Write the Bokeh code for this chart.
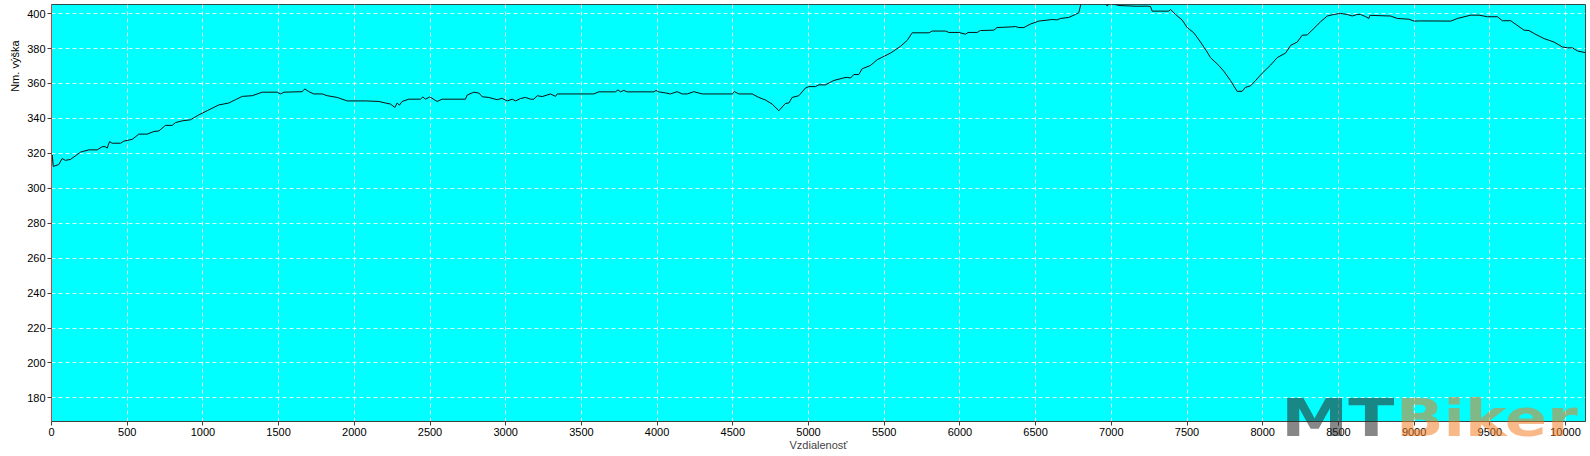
import math
from bokeh.plotting import figure
from bokeh.models import Range1d, FixedTicker, Title, Div
from bokeh.layouts import column
from bokeh.embed import file_html
from bokeh.resources import INLINE

# Distance (m) along the route
distance = [0, 5, 12, 48, 70, 92, 125, 192, 247, 302, 335, 356, 368, 383, 401, 456, 478, 533, 577, 632,
            676, 709, 753, 797, 819, 863, 918, 973, 1028, 1105, 1171, 1215, 1260, 1326, 1392, 1491, 1513,
            1535, 1656, 1673, 1700, 1733, 1788, 1821, 1887, 1953, 2074, 2162, 2206, 2239, 2268, 2283, 2298,
            2316, 2360, 2437, 2453, 2470, 2499, 2547, 2580, 2734, 2746, 2790, 2823, 2845, 2888, 2944, 2975,
            3010, 3043, 3065, 3098, 3131, 3164, 3186, 3208, 3241, 3296, 3329, 3340, 3582, 3615, 3725, 3741,
            3758, 3780, 3802, 3978, 3993, 4011, 4055, 4088, 4132, 4166, 4199, 4242, 4298, 4496, 4511, 4540,
            4628, 4672, 4716, 4760, 4804, 4848, 4870, 4892, 4936, 4980, 5002, 5046, 5068, 5112, 5167, 5233,
            5255, 5277, 5299, 5332, 5354, 5409, 5454, 5498, 5542, 5608, 5652, 5685, 5795, 5817, 5905, 5927,
            5993, 6037, 6054, 6114, 6136, 6224, 6246, 6345, 6367, 6389, 6422, 6466, 6521, 6610, 6642, 6664,
            6719, 6763, 6785, 6801, 6960, 6973, 6990, 7050, 7171, 7237, 7259, 7270, 7380, 7391, 7424, 7468,
            7501, 7545, 7589, 7633, 7655, 7710, 7743, 7787, 7831, 7864, 7886, 7919, 7953, 7997, 8052, 8096,
            8151, 8184, 8228, 8261, 8294, 8338, 8382, 8426, 8470, 8514, 8558, 8591, 8624, 8646, 8679, 8701,
            8708, 8845, 8889, 8966, 8999, 9043, 9242, 9286, 9374, 9429, 9484, 9550, 9583, 9638, 9726, 9759,
            9792, 9858, 9924, 9979, 10012, 10045, 10079, 10134]

# Elevation (m a.s.l.)
elevation = [313, 319, 312.5, 313.6, 317, 316, 316.5, 320.7, 322, 322, 323.8, 323.8, 323, 326.7, 325.8,
             325.8, 327, 328, 331, 331, 332.5, 332.8, 336, 336, 337.6, 338.6, 339.2, 342, 344.4, 347.7,
             348.8, 350.7, 352.6, 353, 355, 355, 354, 355, 355.3, 356.9, 355.3, 354, 354, 353, 352, 350,
             350, 349.7, 348.8, 348.2, 346.3, 348.8, 347.6, 349.7, 351, 351, 352.3, 351, 352.3, 349.7, 351,
             351, 353.4, 355, 354.5, 352.4, 352, 350.7, 351.5, 350, 351, 350, 351.4, 352, 351, 351, 353,
             352.5, 354, 352.6, 354, 354, 355.2, 355.2, 356.3, 355.2, 356, 355.2, 355.2, 356, 355.2, 354.6,
             354, 355.3, 354, 354, 355.3, 354, 354, 355.3, 354, 354, 352, 350.5, 348.2, 344.4, 348.6,
             348.8, 352, 353, 357.4, 358.2, 358.2, 359.2, 359.2, 361.7, 363.2, 363.5, 363.1, 365.1, 365.1,
             368.4, 370.3, 373.6, 375.5, 377.4, 381.3, 384.7, 389, 389, 390, 390, 389.2, 389.2, 388.2,
             389.2, 389.2, 390.3, 390.5, 392, 392.4, 392.6, 392, 392, 394, 395.7, 396.6, 396.4, 397.2,
             397.8, 399.5, 400.5, 406, 406, 404.3, 406, 404.6, 404.2, 404.3, 404, 401.4, 401.4, 402.4,
             399.5, 396.3, 392, 389, 383.7, 378, 374.8, 370.3, 367, 361.7, 355.5, 355.5, 357.8, 358.6,
             361.7, 365.9, 370.5, 374.8, 377.4, 381.8, 383.7, 387.6, 387.8, 391.5, 395.3, 398.6, 399.5,
             400.1, 399.5, 398.6, 399.5, 399.5, 398.3, 397.2, 399, 398.6, 397.2, 396.8, 395.7, 395.8,
             395.7, 397.2, 399.1, 399.1, 398.2, 398.2, 395.9, 395.9, 390.5, 390.3, 388.6, 385.7, 383.7,
             380.9, 380.4, 380.4, 378.6, 377.6]

x_ticks = list(range(0, 10001, 500))
y_ticks = list(range(180, 401, 20))
x_title = "Vzdialenosť"
y_title = "Nm. výška"
watermark_parts = ["MT", "Biker"]

FONT = "Liberation Sans"

p = figure(width=1590, height=456, output_backend="svg", toolbar_location=None,
           x_range=Range1d(0, 10132), y_range=Range1d(166.5, 405.2),
           min_border_left=51, min_border_right=5, min_border_top=4, min_border_bottom=35)

p.background_fill_color = "#00FFFF"
p.border_fill_color = "white"
p.outline_line_color = "#2F4F4F"
p.outline_line_width = 1

for g in (p.xgrid, p.ygrid):
    g.grid_line_color = "white"
    g.grid_line_alpha = 0.85
    g.grid_line_dash = "4 3"
    g.grid_line_width = 1
p.xgrid.ticker = FixedTicker(ticks=x_ticks)
p.ygrid.ticker = FixedTicker(ticks=y_ticks)

p.xaxis.ticker = FixedTicker(ticks=x_ticks)
p.yaxis.ticker = FixedTicker(ticks=y_ticks)
for ax in (p.xaxis[0], p.yaxis[0]):
    ax.major_label_text_font = FONT
    ax.major_label_text_font_size = "11px"
    ax.major_label_text_color = "black"
    ax.major_tick_out = 4
    ax.major_tick_in = 0
    ax.minor_tick_out = 0
    ax.minor_tick_in = 0
    ax.major_tick_line_color = "#404040"
    ax.major_label_standoff = 2
p.xaxis.axis_line_color = "#404040"
p.yaxis.axis_line_color = "#D04040"
p.xaxis.axis_label = x_title
p.xaxis.axis_label_text_font = FONT
p.xaxis.axis_label_text_font_size = "11px"
p.xaxis.axis_label_text_font_style = "normal"
p.xaxis.axis_label_standoff = 0

p.line(distance, elevation, line_color="#101010", line_width=1)

# y title near the top of the left side
p.add_layout(Title(text=y_title, align="right", offset=36, standoff=8,
                   text_font=FONT, text_font_size="11px", text_font_style="normal",
                   text_color="black"), "left")

# watermark overlay (HTML, drawn above the canvas)
wm_html = ('<span style="position:absolute;left:0px;top:0px;transform:scaleX(1.3);'
           'transform-origin:0 0;color:#2e2e2e;opacity:0.57">%s</span>'
           '<span style="position:absolute;left:115px;top:0px;transform:scaleX(1.2);'
           'transform-origin:0 0;color:#F47A20;opacity:0.53">%s</span>'
           % tuple(watermark_parts))
wm = Div(text=wm_html, width=310, height=60,
         styles={"position": "absolute", "left": "1276px", "top": "387px",
                 "z-index": "10", "pointer-events": "none",
                 "font-family": "DejaVu Sans", "font-weight": "bold",
                 "font-size": "52px", "line-height": "52px", "white-space": "nowrap"})

layout = column(p, wm)
open("out.html", "w").write(file_html(layout, INLINE))
